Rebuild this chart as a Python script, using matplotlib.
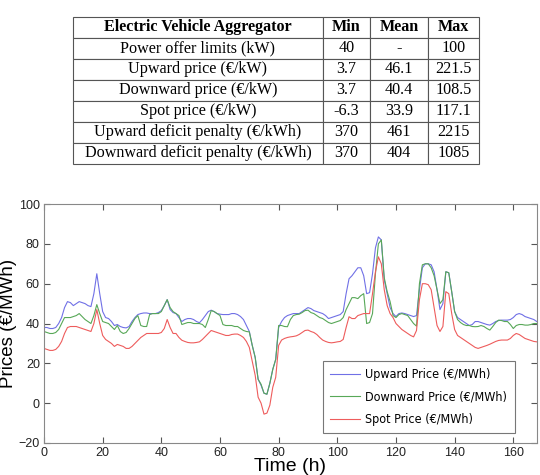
import matplotlib
matplotlib.use('Agg')
import matplotlib.pyplot as plt

# table contents
table_header = ['Electric Vehicle Aggregator', 'Min', 'Mean', 'Max']
table_rows = [
    ['Power offer limits (kW)', '40', '-', '100'],
    ['Upward price (€/kW)', '3.7', '46.1', '221.5'],
    ['Downward price (€/kW)', '3.7', '40.4', '108.5'],
    ['Spot price (€/kW)', '-6.3', '33.9', '117.1'],
    ['Upward deficit penalty (€/kWh)', '370', '461', '2215'],
    ['Downward deficit penalty (€/kWh)', '370', '404', '1085'],
]

# hourly prices, h = 0..168
upward = [38, 38, 37.5, 37.5, 38, 40, 43, 48, 51, 50.5, 49, 50, 51, 50.5, 50, 49, 48.5, 55, 65, 55,
          46, 43, 42.5, 41, 39, 39.5, 38.5, 38, 37.8, 38.5, 41, 43, 44.5, 45, 45.3, 45.3, 45, 45, 45, 45.5,
          46.5, 49, 52, 47, 45.5, 45, 43, 41, 42, 42.5, 42.5, 42, 41, 40.4, 42, 44, 46, 46.7, 46, 45,
          44.7, 44.5, 44.5, 44.5, 45, 45, 44.5, 43.5, 42, 39, 36, 29, 23, 12, 9, 5, 4.5, 10, 17, 22,
          38, 41, 43, 44, 44.5, 45, 45, 45, 46, 47, 48, 47.5, 46.5, 46, 45.5, 45, 44, 42.5, 43, 43.5,
          44, 44.5, 46, 55, 62.5, 64, 66, 68, 68, 64, 55, 55.5, 65, 78, 83.5, 82, 62, 55, 48, 45,
          43.5, 45, 45.3, 45, 44.5, 44, 43.5, 44, 57, 68, 70, 70, 69.5, 66, 57, 47, 50, 66, 65.5, 56,
          46, 43, 42, 41, 40, 39, 39.5, 41, 41, 40.5, 40, 39.5, 39.2, 40, 41, 41.5, 41.7, 41.7, 41.7, 42,
          43, 44.5, 45, 44.5, 43.5, 43, 42.5, 42, 41]
downward = [36, 35.5, 35, 35, 35.5, 37, 40, 43, 43, 43, 43.5, 44, 45, 43.5, 42, 41, 40, 44, 49.5, 45,
            41, 40.5, 40, 38.5, 37, 39, 36, 35, 35.5, 37.5, 40, 42.5, 44, 39, 38.5, 38.5, 44.5, 45, 45, 45,
            46, 49, 52, 48, 46, 45, 44, 39.5, 40, 40.5, 40.5, 40, 40, 40, 39.5, 38, 42, 46.5, 46, 45,
            44, 39.5, 39, 39, 39, 38.5, 38.5, 37.5, 36.5, 36, 35.8, 29, 23, 12, 9.5, 5, 4.5, 10, 17, 22,
            39, 39, 38.5, 38.4, 42, 44, 44.5, 44.7, 45.5, 46.5, 46.7, 45.5, 45, 44, 43, 42.5, 41.5, 40.5, 40, 40.5,
            41, 41.5, 43, 47, 50, 53, 53, 52.5, 54, 55, 40, 40.5, 45, 65, 80, 82, 63, 56, 51, 44,
            43, 44.5, 45, 44.5, 44, 42, 40, 38.7, 60, 69.5, 70, 70, 68, 64, 57, 50, 52, 66, 65.5, 56,
            46, 42, 40.5, 39.5, 39, 39, 38.5, 38.4, 38.5, 39, 38.5, 37.5, 36.7, 38.5, 40.5, 41.7, 41.5, 41, 41, 39.5,
            37.5, 39, 39.5, 39.5, 39.2, 39.2, 39.5, 40, 40]
spot = [27.5, 27, 26.5, 26.5, 27, 28.5, 31, 35, 38, 38.5, 38.5, 38.5, 38, 37.5, 37, 36.5, 36, 40, 47, 40,
        34, 32, 31, 30, 28.5, 29.5, 29, 28.5, 27.5, 27.5, 28.5, 30, 31.5, 33, 34, 35, 35, 35, 35, 35,
        35.5, 37.5, 42, 38, 35, 35, 33, 31.6, 31, 30.5, 30.3, 30.3, 30.5, 30.8, 32, 33.5, 35, 36.5, 36, 35.5,
        35, 34.5, 34, 34, 34.5, 34.7, 34.7, 34, 33, 31, 28, 21, 14, 3, 0, -5.5, -5, -1, 8, 13,
        29, 31.7, 32.5, 33, 33.3, 33.5, 33.8, 34.5, 35.5, 36.5, 36.7, 36, 35.5, 34.5, 33, 31.7, 31, 30.5, 30.3, 30.5,
        30.8, 31, 32, 38, 43.4, 42.5, 42.5, 44, 44.5, 45, 45, 45, 55, 66, 73.5, 70, 57, 49, 45, 43,
        40, 38.5, 37, 36, 35, 34, 33.3, 36.5, 52, 60, 60, 59.5, 57, 48, 39, 36, 38.5, 56, 55, 45,
        37, 34, 33, 32, 31, 30, 29, 28, 27.5, 28, 28.5, 29, 29.6, 30.3, 31, 31.5, 31.7, 31.7, 31.7, 32.5,
        34, 35, 34.5, 33.5, 32.5, 32, 31.5, 31, 30.8]
hours = list(range(len(upward)))

fig = plt.figure(figsize=(5.4, 4.75), dpi=100)

# table on top
tax = fig.add_axes([0.135, 0.655, 0.752, 0.31])
tax.axis('off')
tbl = tax.table(cellText=table_rows, colLabels=table_header,
                colWidths=[250, 47, 58, 51], cellLoc='center',
                bbox=[0, 0, 1, 1])
tbl.auto_set_font_size(False)
for (r, c), cell in tbl.get_celld().items():
    cell.set_edgecolor('#555555')
    cell.set_linewidth(0.8)
    cell.get_text().set_fontfamily('Liberation Serif')
    cell.get_text().set_fontsize(11.6)
    if r == 0:
        cell.get_text().set_fontweight('bold')

# price chart
ax = fig.add_axes([0.0815, 0.0674, 0.9125, 0.503])
ax.plot(hours, upward, color='#7070e6', lw=0.8, label='Upward Price (€/MWh)')
ax.plot(hours, downward, color='#58a858', lw=0.8, label='Downward Price (€/MWh)')
ax.plot(hours, spot, color='#ee5c5c', lw=0.8, label='Spot Price (€/MWh)')

ax.set_xlim(0, 168)
ax.set_ylim(-20, 100)
ax.set_xticks(range(0, 161, 20))
ax.set_yticks(range(-20, 101, 20))
ax.tick_params(direction='in', top=True, right=True, labelsize=9, color='#555555',
               labelcolor='#222222', length=4, pad=3)
for s in ax.spines.values():
    s.set_color('#888888')
ax.set_xlabel('Time (h)', fontsize=14, family='Liberation Sans', labelpad=-1)
ax.set_ylabel('Prices (€/MWh)', fontsize=13.5, family='Liberation Sans', labelpad=1)
for lbl in ax.get_xticklabels() + ax.get_yticklabels():
    lbl.set_family('Liberation Sans')

leg = ax.legend(loc='lower right', bbox_to_anchor=(0.955, 0.04), fancybox=False,
                prop={'family': 'DejaVu Sans', 'stretch': 'condensed', 'size': 9},
                handlelength=2.4, handletextpad=0.4, borderpad=0.6, labelspacing=0.75,
                borderaxespad=0)
leg.get_frame().set_edgecolor('#555555')
leg.get_frame().set_linewidth(0.8)

fig.savefig('out.png', dpi=100)
